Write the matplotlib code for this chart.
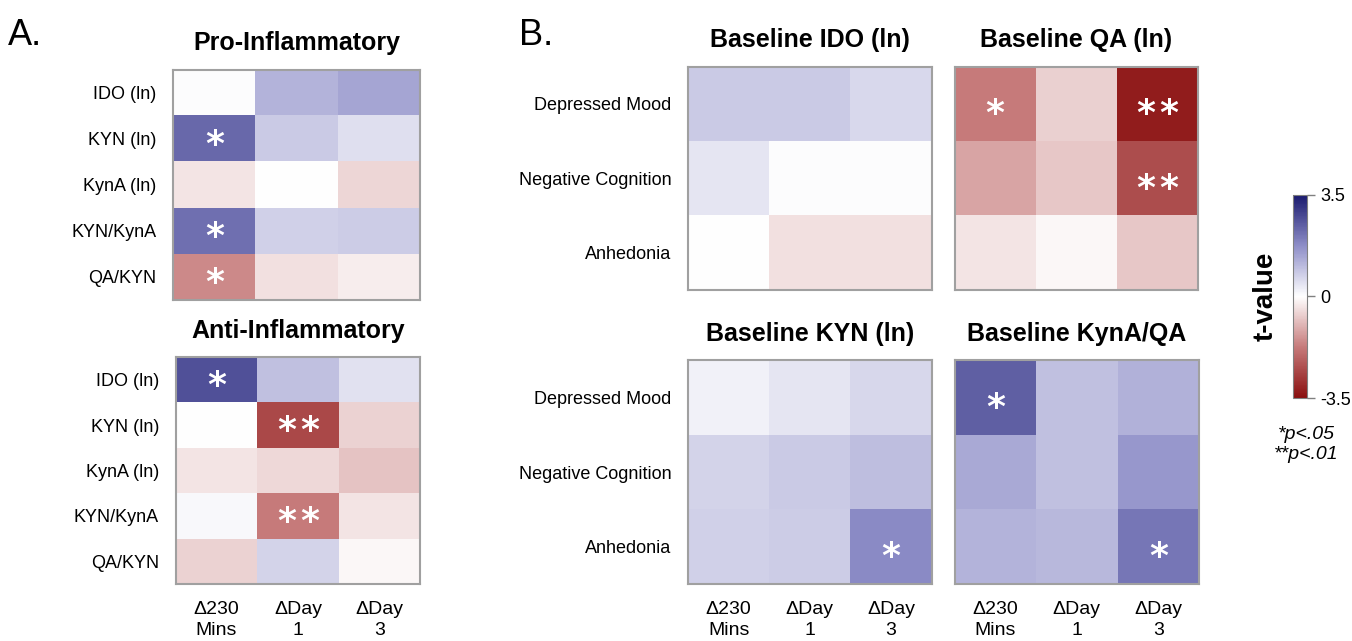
import numpy as np
import matplotlib
matplotlib.use("Agg")
import matplotlib.pyplot as plt
from matplotlib.colors import LinearSegmentedColormap

plt.rcParams["font.family"] = ["Liberation Sans Narrow", "Liberation Sans", "DejaVu Sans"]

# ---- data (t-values) ----
time_labels = ["\u0394230\nMins", "\u0394Day\n1", "\u0394Day\n3"]
marker_labels = ["IDO (ln)", "KYN (ln)", "KynA (ln)", "KYN/KynA", "QA/KYN"]
symptom_labels = ["Depressed Mood", "Negative Cognition", "Anhedonia"]

pro_t = [[0.05, 1.16, 1.38],
         [2.3, 0.8, 0.47],
         [-0.33, 0.0, -0.54],
         [2.2, 0.73, 0.79],
         [-1.55, -0.39, -0.23]]
pro_sig = [["", "", ""],
           ["*", "", ""],
           ["", "", ""],
           ["*", "", ""],
           ["*", "", ""]]

anti_t = [[2.66, 0.97, 0.46],
          [0.0, -2.57, -0.59],
          [-0.35, -0.51, -0.79],
          [0.1, -1.75, -0.35],
          [-0.59, 0.66, -0.1]]
anti_sig = [["*", "", ""],
            ["", "**", ""],
            ["", "", ""],
            ["", "**", ""],
            ["", "", ""]]

ido_t = [[0.8, 0.8, 0.58],
         [0.4, 0.04, 0.04],
         [0.0, -0.41, -0.41]]
ido_sig = [["", "", ""], ["", "", ""], ["", "", ""]]

qa_t = [[-1.75, -0.62, -3.26],
        [-1.2, -0.72, -2.47],
        [-0.33, -0.1, -0.72]]
qa_sig = [["*", "", "**"], ["", "", "**"], ["", "", ""]]

kyn_t = [[0.2, 0.4, 0.62],
         [0.66, 0.82, 1.0],
         [0.73, 0.78, 1.8]]
kyn_sig = [["", "", ""], ["", "", ""], ["", "", "*"]]

kynaqa_t = [[2.45, 0.97, 1.2],
            [1.33, 0.97, 1.6],
            [1.16, 1.08, 2.08]]
kynaqa_sig = [["*", "", ""], ["", "", ""], ["", "", "*"]]

cmap = LinearSegmentedColormap.from_list(
    "tval", [(0.0, "#8a0f0f"), (0.25, "#c67a7a"), (0.5, "#ffffff"),
             (0.75, "#8e8ec8"), (1.0, "#1a1a6e")])


def heat(ax, vals, sig, title, ylabels=None, xlabels=None):
    vals = np.array(vals)
    im = ax.imshow(vals, cmap=cmap, vmin=-3.5, vmax=3.5, aspect="auto")
    for i in range(vals.shape[0]):
        for j in range(vals.shape[1]):
            s = sig[i][j]
            if not s:
                continue
            # each star drawn on its own so the gap matches the original
            offs = [0.0] if len(s) == 1 else [-0.14, 0.14]
            for dx in offs:
                ax.text(j + dx, i + 0.14, "*", ha="center", va="center",
                        color="white", fontsize=26, fontweight="bold",
                        fontfamily="DejaVu Sans")
    ax.set_title(title, fontsize=18, fontweight="bold", pad=14)
    ax.tick_params(length=0, pad=12)
    if ylabels is not None:
        ax.set_yticks(range(len(ylabels)))
        ax.set_yticklabels(ylabels, fontsize=13)
    else:
        ax.set_yticks([])
    if xlabels is not None:
        ax.set_xticks(range(len(xlabels)))
        ax.set_xticklabels(xlabels, fontsize=14, linespacing=1.35)
    else:
        ax.set_xticks([])
    for sp in ax.spines.values():
        sp.set_color("#a0a0a0")
        sp.set_linewidth(1.5)
    return im


fig = plt.figure(figsize=(13.52, 6.41), dpi=100)

ax_pro = fig.add_axes([0.128, 0.532, 0.183, 0.359])
ax_anti = fig.add_axes([0.130, 0.089, 0.181, 0.354])
ax_ido = fig.add_axes([0.509, 0.548, 0.180, 0.348])
ax_qa = fig.add_axes([0.706, 0.548, 0.180, 0.348])
ax_kyn = fig.add_axes([0.509, 0.089, 0.180, 0.349])
ax_kq = fig.add_axes([0.706, 0.089, 0.181, 0.349])

im = heat(ax_pro, pro_t, pro_sig, "Pro-Inflammatory", ylabels=marker_labels)
heat(ax_anti, anti_t, anti_sig, "Anti-Inflammatory", ylabels=marker_labels, xlabels=time_labels)
heat(ax_ido, ido_t, ido_sig, "Baseline IDO (ln)", ylabels=symptom_labels)
heat(ax_qa, qa_t, qa_sig, "Baseline QA (ln)")
heat(ax_kyn, kyn_t, kyn_sig, "Baseline KYN (ln)", ylabels=symptom_labels, xlabels=time_labels)
heat(ax_kq, kynaqa_t, kynaqa_sig, "Baseline KynA/QA", xlabels=time_labels)

cax = fig.add_axes([0.956, 0.379, 0.011, 0.317])
cb = fig.colorbar(im, cax=cax, ticks=[-3.5, 0, 3.5])
cb.ax.set_yticklabels(["-3.5", "0", "3.5"], fontsize=13)
cb.ax.tick_params(length=6, width=1, color="#808080")
cb.outline.set_edgecolor("#808080")
cb.ax.yaxis.set_label_position("left")
cb.set_label("t-value", fontsize=20, fontweight="bold", labelpad=10)

fig.text(0.966, 0.335, "*p<.05\n**p<.01", ha="center", va="top", fontsize=14,
         fontstyle="italic", linespacing=1.2)

fig.text(0.006, 0.93, "A.", fontsize=26)
fig.text(0.384, 0.93, "B.", fontsize=26)

fig.savefig("out.png", dpi=100)
